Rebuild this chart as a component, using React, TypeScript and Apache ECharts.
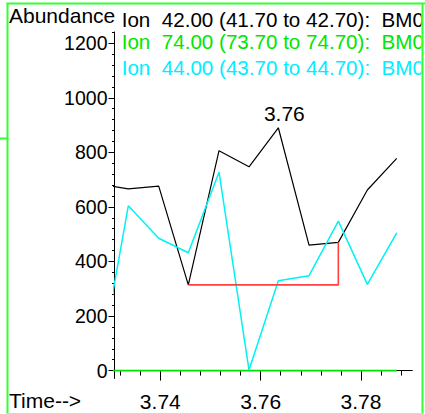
import React, { useEffect, useRef } from "react";
import * as echarts from "echarts";

// ---- data ----
const scanTimes = [3.72768, 3.73362, 3.73968, 3.74558, 3.7517, 3.75768, 3.76352, 3.76964, 3.77548, 3.78126, 3.78712];
const ion42 = [684, 666, 676, 314, 806, 747, 890, 460, 470, 662, 778];
const ion74 = [0, 0, 0, 0, 0, 0, 0, 0, 0, 0, 0];
const ion44 = [-10, 604, 485, 432, 727, 2, 329, 348, 548, 316, 505];
const baselineStartIndex = 3;
const baselineEndIndex = 8;

const yTickValues = [0, 200, 400, 600, 800, 1000, 1200];
const yMinorTickValues = [0, 40, 80, 120, 160, 200, 240, 280, 320, 360, 400, 440, 480, 520, 560, 600, 640, 680, 720, 760, 800, 840, 880, 920, 960, 1000, 1040, 1080, 1120, 1160, 1200, 1240];
const xTickValues = [3.74, 3.76, 3.78];
const xMinorTickValues = [3.732, 3.736, 3.74, 3.744, 3.748, 3.752, 3.756, 3.76, 3.764, 3.768, 3.772, 3.776, 3.78, 3.784, 3.788];

const legendLines = [
  "Ion\u00a0\u00a042.00 (41.70 to 42.70):\u00a0\u00a0BM0",
  "Ion\u00a0\u00a074.00 (73.70 to 74.70):\u00a0\u00a0BM0",
  "Ion\u00a0\u00a044.00 (43.70 to 44.70):\u00a0\u00a0BM0",
];
const legendColors = ["#000000", "#00e600", "#00eeff"];
const yAxisTitle = "Abundance";
const xAxisTitle = "Time-->";

const X_MIN = 3.73087;
const X_MAX = 3.79022;
const Y_MIN = -29;
const Y_MAX = 1241;

const FONT = '"Liberation Sans", Arial, sans-serif';

export default function App() {
  const ref = useRef<HTMLDivElement>(null);

  useEffect(() => {
    if (!ref.current) return;
    const chart = echarts.init(ref.current, null, { renderer: "svg" });

    const pts = (vals: number[]) => scanTimes.map((t, i) => [t, vals[i]]);
    const baseVal = ion42[baselineStartIndex];
    const baseline = [
      [scanTimes[baselineStartIndex], baseVal],
      [scanTimes[baselineEndIndex], baseVal],
      [scanTimes[baselineEndIndex], ion42[baselineEndIndex]],
    ];
    let peakIdx = 0;
    ion42.forEach((v, i) => {
      if (v > ion42[peakIdx]) peakIdx = i;
    });

    const lineCommon = {
      type: "line" as const,
      showSymbol: false,
      symbol: "none",
      smooth: false,
      clip: true,
      xAxisIndex: 0,
      yAxisIndex: 0,
    };

    const option: any = {
      animation: false,
      backgroundColor: "#ffffff",
      textStyle: { fontFamily: FONT },
      grid: { left: 114.5, right: 12.7, top: 32, bottom: 35.5, containLabel: false, outerBoundsMode: "none" },
      xAxis: [
        {
          type: "value",
          min: X_MIN,
          max: X_MAX,
          position: "bottom",
          axisLine: { show: true, lineStyle: { color: "#000", width: 1 } },
          axisTick: { show: true, customValues: xTickValues, length: 10, lineStyle: { color: "#000", width: 1 } },
          axisLabel: {
            show: true,
            customValues: xTickValues,
            formatter: (v: number) => v.toFixed(2),
            fontSize: 21,
            color: "#000",
            fontFamily: FONT,
            margin: 12,
          },
          splitLine: { show: false },
        },
        {
          type: "value",
          min: X_MIN,
          max: X_MAX,
          position: "bottom",
          axisLine: { show: false },
          axisTick: { show: true, customValues: xMinorTickValues, length: 5, lineStyle: { color: "#000", width: 1 } },
          axisLabel: { show: false },
          splitLine: { show: false },
        },
      ],
      yAxis: [
        {
          type: "value",
          min: Y_MIN,
          max: Y_MAX,
          position: "left",
          axisLine: { show: true, lineStyle: { color: "#000", width: 1 } },
          axisTick: { show: true, customValues: yTickValues, length: 6, lineStyle: { color: "#000", width: 1 } },
          axisLabel: {
            show: true,
            customValues: yTickValues,
            formatter: (v: number) => String(Math.round(v)),
            fontSize: 19.5,
            color: "#000",
            fontFamily: FONT,
            margin: 7,
          },
          splitLine: { show: false },
        },
        {
          type: "value",
          min: Y_MIN,
          max: Y_MAX,
          position: "left",
          axisLine: { show: false },
          axisTick: { show: true, customValues: yMinorTickValues, length: 2.5, lineStyle: { color: "#000", width: 1 } },
          axisLabel: { show: false },
          splitLine: { show: false },
        },
      ],
      series: [
        {
          ...lineCommon,
          name: "Ion 42.00",
          data: pts(ion42),
          lineStyle: { color: "#000000", width: 1.2 },
          z: 3,
          markPoint: {
            symbol: "rect",
            symbolSize: 1,
            itemStyle: { color: "rgba(0,0,0,0)" },
            label: {
              show: true,
              position: "top",
              distance: 4,
              offset: [6, 1],
              color: "#000",
              fontSize: 21,
              fontFamily: FONT,
              formatter: (p: any) => Number(p.data.coord[0]).toFixed(2),
            },
            data: [{ coord: [scanTimes[peakIdx], ion42[peakIdx]] }],
          },
        },
        {
          ...lineCommon,
          name: "Ion 74.00",
          data: pts(ion74),
          lineStyle: { color: "#00e000", width: 1.6 },
          z: 4,
        },
        {
          ...lineCommon,
          name: "Ion 44.00",
          data: pts(ion44),
          lineStyle: { color: "#00f2f2", width: 1.5 },
          z: 5,
        },
        {
          ...lineCommon,
          name: "Baseline",
          data: baseline,
          lineStyle: { color: "#ff4040", width: 1.6 },
          z: 6,
        },
      ],
      graphic: [
        {
          type: "text",
          x: 9,
          y: 15.5,
          z: 10,
          style: { text: yAxisTitle, fill: "#000", font: `21px ${FONT}`, align: "left", verticalAlign: "middle" },
        },
        ...legendLines.map((t, i) => ({
          type: "text",
          x: 121.7,
          y: [19.8, 41, 67.3][i],
          z: 10,
          style: { text: t, fill: legendColors[i], font: `20.6px ${FONT}`, align: "left", verticalAlign: "middle" },
        })),
        {
          type: "text",
          x: 9,
          y: 400.5,
          z: 10,
          style: { text: xAxisTitle, fill: "#000", font: `21px ${FONT}`, align: "left", verticalAlign: "middle" },
        },
        // right-edge mask so the long ion texts end at the frame
        { type: "rect", z: 20, shape: { x: 421.5, y: 0, width: 4, height: 414 }, style: { fill: "#ffffff" } },
        // frame
        { type: "line", z: 30, shape: { x1: 6.5, y1: 3.5, x2: 425, y2: 3.5 }, style: { stroke: "#33ff33", lineWidth: 2 } },
        { type: "line", z: 30, shape: { x1: 7.5, y1: 3, x2: 7.5, y2: 414 }, style: { stroke: "#33ff33", lineWidth: 2 } },
        { type: "line", z: 30, shape: { x1: 0, y1: 138.5, x2: 7.5, y2: 138.5 }, style: { stroke: "#33ff33", lineWidth: 2 } },
        { type: "line", z: 30, shape: { x1: 422.5, y1: 3, x2: 422.5, y2: 414 }, style: { stroke: "#33ff33", lineWidth: 2 } },
        { type: "line", z: 30, shape: { x1: 7, y1: 413.5, x2: 423, y2: 413.5 }, style: { stroke: "#99ff99", lineWidth: 1 } },
      ],
    };

    chart.setOption(option);
    return () => chart.dispose();
  }, []);

  return (
    <div
      ref={ref}
      style={{ position: "fixed", left: 0, top: 0, width: 425, height: 414, background: "#ffffff" }}
    />
  );
}
